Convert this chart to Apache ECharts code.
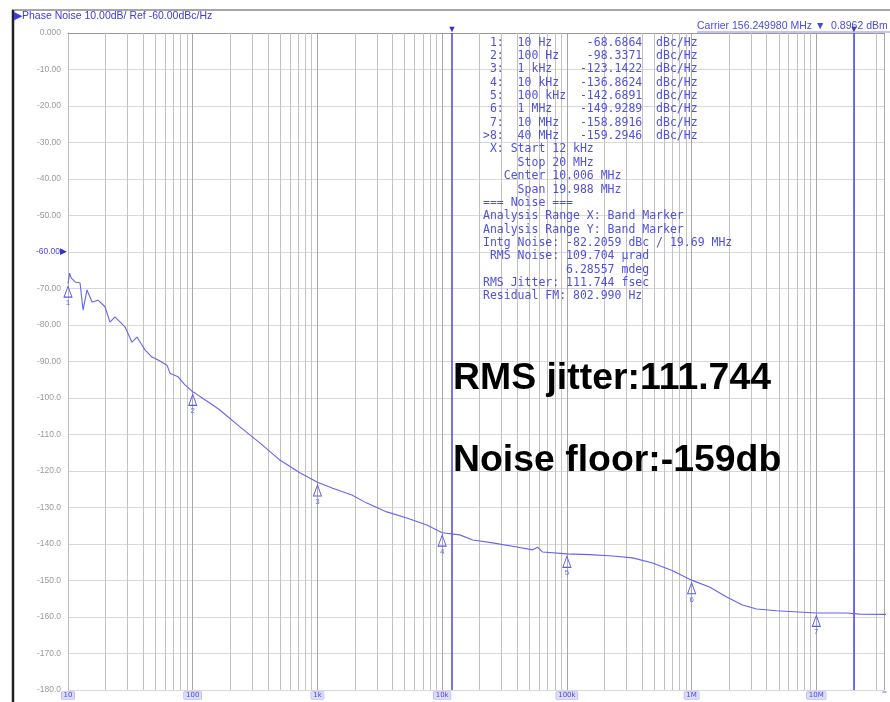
<!DOCTYPE html>
<html><head><meta charset="utf-8">
<script src="https://cdn.jsdelivr.net/npm/echarts@6/dist/echarts.min.js"></script>
<style>html,body{margin:0;padding:0;background:#fff}#c{width:890px;height:702px}</style>
</head><body><div id="c"></div>
<script>
// ---- data ----
const freqHz = [10, 10.3, 10.6, 11.4, 12.5, 13.2, 14.2, 15.6, 17.4, 19.8, 21.7, 23.8, 28.6, 32.6, 35.7, 41.4, 47.1, 52.8, 62.2, 65.7, 76.2, 86.6,
  100, 104, 125, 145, 165, 239, 345, 500, 722,
  1000, 1327, 1888, 2489, 3598, 5205, 7530,
  10000, 13840, 17590, 25420, 39600, 53200, 58300, 63900,
  100000, 152000, 233000, 337000, 487000, 705000,
  1000000, 1390000, 1910000, 2560000, 3320000, 4800000,
  10000000, 17500000, 22200000, 40000000];
const phaseNoise = [-68.7, -65.8, -67.1, -68.2, -68.5, -75.9, -70.4, -73.7, -73.2, -75.0, -79.2, -77.8, -80.5, -84.7, -83.3, -86.8, -88.8, -89.6, -91.0, -93.2, -94.2, -96.4,
  -98.3, -98.6, -100.5, -101.9, -103.3, -107.9, -112.3, -117.0, -120.5,
  -123.1, -124.7, -126.6, -128.8, -131.2, -132.9, -134.8,
  -136.9, -137.5, -138.9, -139.7, -140.8, -141.6, -140.9, -142.2,
  -142.7, -142.9, -143.3, -143.8, -145.2, -147.3,
  -149.9, -151.8, -154.5, -156.7, -157.8, -158.3,
  -158.9, -158.9, -159.2, -159.3];
const markerFreq = [10, 100, 1e3, 1e4, 1e5, 1e6, 1e7, 4e7];
const markerFreqText = ['10 Hz', '100 Hz', '1 kHz', '10 kHz', '100 kHz', '1 MHz', '10 MHz', '40 MHz'];
const markerValue = [-68.6864, -98.3371, -123.1422, -136.8624, -142.6891, -149.9289, -158.8916, -159.2946];
const bandMarkers = [12000, 20e6];
const xTickLabels = {10: '10', 100: '100', 1000: '1k', 10000: '10k', 100000: '100k', 1000000: '1M', 10000000: '10M'};
const headerText = '\u25B6Phase Noise 10.00dB/ Ref -60.00dBc/Hz';
const carrierText = 'Carrier 156.249980 MHz \u25BC  0.8962 dBm';
const summaryLines = [
  ' X: Start 12 kHz',
  '     Stop 20 MHz',
  '   Center 10.006 MHz',
  '     Span 19.988 MHz',
  '=== Noise ===',
  'Analysis Range X: Band Marker',
  'Analysis Range Y: Band Marker',
  'Intg Noise: -82.2059 dBc / 19.69 MHz',
  ' RMS Noise: 109.704 \u00B5rad',
  '            6.28557 mdeg',
  'RMS Jitter: 111.744 fsec',
  'Residual FM: 802.990 Hz'
];
const bigText1 = 'RMS jitter:111.744';
const bigText2 = 'Noise floor:-159db';

// ---- build ----
const curve = freqHz.map((f, i) => [f, phaseNoise[i]]);
const tableLines = markerFreq.map((f, i) => {
  const idx = (i === 7 ? '>' : ' ') + (i + 1) + ':';
  return idx + '  ' + markerFreqText[i].padEnd(8, ' ') + markerValue[i].toFixed(4).padStart(10, ' ') + '  dBc/Hz';
}).concat(summaryLines);

const X_MAX = 3.52e7;
const minorGrid = [];
for (let d = 10; d < X_MAX; d *= 10) {
  for (let k = 2; k <= 9; k++) { if (d * k <= X_MAX) minorGrid.push({xAxis: d * k}); }
}

const chart = echarts.init(document.getElementById('c'), null, {renderer: 'canvas'});
chart.setOption({
  animation: false,
  backgroundColor: '#fff',
  grid: {left: 68, top: 33, right: 0, bottom: 12, containLabel: false},
  xAxis: {
    type: 'log', logBase: 10, min: 10, max: X_MAX,
    axisLine: {lineStyle: {color: '#999', width: 1}},
    axisTick: {show: false},
    axisLabel: {
      formatter: v => xTickLabels[Math.round(v)] || '',
      color: '#4a4ae0', fontSize: 7, fontFamily: 'DejaVu Sans',
      backgroundColor: '#dcdcf8', borderColor: '#9a9af0', borderWidth: 0.5,
      padding: [0, 2], margin: 2
    },
    splitLine: {show: true, lineStyle: {color: '#a8a8a8', width: 1}}
  },
  yAxis: {
    type: 'value', min: -180, max: 0, interval: 10,
    axisLine: {show: true, lineStyle: {color: '#bbb'}},
    axisTick: {show: false},
    axisLabel: {
      margin: 1,
      formatter: v => {
        const s = v === 0 ? '0.000' : (v > -100 ? v.toFixed(2) : v.toFixed(1));
        if (v === -60) return '{b|' + s + '}{t|\u25B6}';
        return '{n|' + s + '}';
      },
      rich: {
        n: {color: '#9a9a9a', fontSize: 8.5, fontFamily: 'Liberation Sans', padding: [0, 6, 0, 0]},
        b: {color: '#4a4ae0', fontSize: 8.5, fontFamily: 'Liberation Sans'},
        t: {color: '#3030d0', fontSize: 9}
      }
    },
    splitLine: {show: true, lineStyle: {color: '#d8d8d8', width: 1}}
  },
  series: [
    {
      type: 'line', data: [], silent: true, z: 1,
      markLine: {silent: true, symbol: 'none', animation: false, label: {show: false},
        lineStyle: {color: '#c2c2c2', width: 1, type: 'solid'}, data: minorGrid}
    },
    {
      type: 'line', data: curve, showSymbol: false, z: 5, clip: true,
      lineStyle: {color: '#6464f0', width: 1.1},
      markLine: {
        silent: true, symbol: 'none', animation: false,
        lineStyle: {color: '#4646e6', width: 1.5, type: 'solid'},
        label: {show: true, position: 'end', formatter: '\u25BC', color: '#3030d0', fontSize: 9, distance: -1},
        data: bandMarkers.map(f => ({xAxis: f}))
      },
      markPoint: {
        silent: true, animation: false,
        symbol: 'triangle', symbolSize: [8, 11], symbolOffset: [0, 8],
        itemStyle: {color: 'rgba(255,255,255,0)', borderColor: '#5a5ae8', borderWidth: 1},
        label: {show: true, position: 'bottom', distance: 1, color: '#6a6ae8', fontSize: 8, formatter: p => p.value},
        data: markerFreq.slice(0, 7).map((f, i) => ({coord: [f, markerValue[i]], value: String(i + 1)}))
      }
    }
  ],
  graphic: [
    {type: 'line', shape: {x1: 12, y1: 10, x2: 890, y2: 10}, style: {stroke: '#888', lineWidth: 1.5}, z: 100},
    {type: 'line', shape: {x1: 13, y1: 10, x2: 13, y2: 702}, style: {stroke: '#222', lineWidth: 2.5}, z: 100},
    {type: 'text', left: 14, top: 11, z: 100, style: {text: headerText, fill: '#3a3ae0', font: '10.5px "Liberation Sans"'}},
    {type: 'text', left: 697, top: 21, z: 100, style: {text: carrierText, fill: '#4a4ae0', font: '10.5px "Liberation Sans"'}},
    {type: 'line', shape: {x1: 697, y1: 32, x2: 890, y2: 32}, style: {stroke: '#6a6ae8', lineWidth: 0.8}, z: 100},
    {type: 'text', left: 483, top: 36, z: 100, style: {text: tableLines.join('\n'), fill: '#5050e0', font: '11.5px "DejaVu Sans Mono"', lineHeight: 13.35}},
    {type: 'text', left: 453, top: 360, z: 100, style: {text: bigText1, fill: '#000', font: 'bold 37.4px "Liberation Sans"'}},
    {type: 'text', left: 453, top: 442, z: 100, style: {text: bigText2, fill: '#000', font: 'bold 37.4px "Liberation Sans"'}}
  ]
});
</script></body></html>
